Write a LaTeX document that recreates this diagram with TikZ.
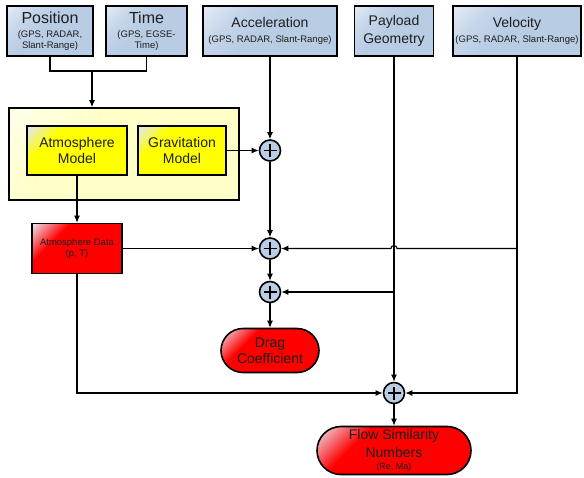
\documentclass[tikz,border=0pt]{standalone}
\usepackage{fontspec}
\setmainfont{Liberation Sans}
\usetikzlibrary{arrows.meta,calc}
\definecolor{bluetop}{HTML}{E2EAF4}
\definecolor{bluemid}{HTML}{C6D6EA}
\definecolor{bluebot}{HTML}{B8CCE4}
\definecolor{envfill}{HTML}{FFFFC8}
\definecolor{envtop}{HTML}{FFFFE6}
\definecolor{yeltop}{HTML}{E4E8EC}
\definecolor{redtop}{HTML}{EAD8E2}
\definecolor{redbot}{HTML}{FF0000}
\definecolor{sumfill}{HTML}{BACDE4}
\definecolor{txt}{HTML}{1E1E1E}
\pgfdeclareverticalshading{bluesh}{100bp}{color(0bp)=(bluebot); color(55bp)=(bluebot); color(70bp)=(bluemid); color(84bp)=(bluetop); color(100bp)=(bluetop)}
\pgfdeclareverticalshading{redsh}{100bp}{color(0bp)=(redbot); color(66bp)=(redbot); color(84bp)=(redtop); color(100bp)=(redtop)}
\pgfdeclareverticalshading{yelsh}{100bp}{color(0bp)=(yellow); color(68bp)=(yellow); color(84bp)=(yeltop); color(100bp)=(yeltop)}
\pgfdeclareverticalshading{envsh}{100bp}{color(0bp)=(envfill); color(62bp)=(envfill); color(82bp)=(envtop); color(100bp)=(envtop)}
\newcommand\fsz[2]{\fontsize{#1}{#2}\selectfont}
\begin{document}
\begin{tikzpicture}[x=1pt,y=-1pt,
  box/.style={draw=black, line width=1.6pt, inner sep=0pt, align=center, text=txt},
  bluebox/.style={box, shade, shading=bluesh, shading angle=45},
  yelbox/.style={box, shade, shading=yelsh, shading angle=45},
  redbox/.style={box, shade, shading=redsh, shading angle=45},
  envbox/.style={draw=black, line width=1.6pt, shade, shading=envsh, shading angle=45},
  sumnode/.style={circle, draw=black, line width=1.6pt, fill=sumfill, minimum size=21pt, inner sep=0pt,
    path picture={\draw[line width=1.6pt] ([xshift=-6.5pt]path picture bounding box.center) -- ([xshift=6.5pt]path picture bounding box.center)
      ([yshift=-6.5pt]path picture bounding box.center) -- ([yshift=6.5pt]path picture bounding box.center);}},
  conn/.style={draw=black, line width=1.1pt},
  arr/.style={conn, -{Latex[length=7pt,width=6pt]}}
  ]
\useasboundingbox (0,0) rectangle (584,477);

% top boxes
\node[bluebox, minimum width=86, minimum height=50, font=\fsz{9.5}{11}] (pos) at (50,31)
  {\fsz{16}{16}Position\\[3pt](GPS, RADAR,\\Slant-Range)};
\node[bluebox, minimum width=81, minimum height=50, font=\fsz{9.5}{11}] (time) at (146.5,31)
  {\fsz{16}{16}Time\\[3pt](GPS, EGSE-\\Time)};
\node[bluebox, minimum width=134, minimum height=50, font=\fsz{9.5}{11}] (acc) at (270,31)
  {\fsz{14}{14}Acceleration\\[4.5pt](GPS, RADAR, Slant-Range)};
\node[bluebox, minimum width=79, minimum height=50, font=\fsz{14}{18}] (pay) at (394,31)
  {Payload\\Geometry};
\node[bluebox, minimum width=128, minimum height=50, font=\fsz{9.5}{11}] (vel) at (517,31)
  {\fsz{14}{14}Velocity\\[4.5pt](GPS, RADAR, Slant-Range)};

% environment models
\node[envbox, minimum width=230, minimum height=92] (env) at (124,154) {};
\node[yelbox, minimum width=100, minimum height=49, font=\fsz{14}{16}] (atmmod) at (77,150.5)
  {Atmosphere\\Model};
\node[yelbox, minimum width=88, minimum height=49, font=\fsz{14}{16}] (grav) at (182,150.5)
  {Gravitation\\Model};

\node[redbox, minimum width=90, minimum height=50, font=\fsz{9.5}{11.3}] (atmdata) at (77,248.5)
  {Atmosphere Data\\(p, T)};

% sums
\node[sumnode] (s1) at (270,150.5) {};
\node[sumnode] (s2) at (270,248.5) {};
\node[sumnode] (s3) at (270,292) {};
\node[sumnode] (s4) at (394,393) {};

% outputs
\node[redbox, rounded corners=22pt, minimum width=98, minimum height=44, font=\fsz{14}{16.5}] (drag) at (270,350.5)
  {Drag\\Coefficient};
\node[redbox, rounded corners=24pt, minimum width=154, minimum height=48, font=\fsz{9}{12}] (flow) at (394,450.5)
  {\fsz{14}{14}Flow Similarity\\[3.5pt]\fsz{14}{14}Numbers\\(Re, Ma)};

% connectors
\coordinate (jn) at (92,71);
\draw[conn] (pos.south) |- (jn) -| (time.south);
\draw[arr] (jn) -- (jn |- env.north);
\draw[arr] (acc.south) -- (s1.north);
\draw[arr] (grav.east) -- (s1.west);
\draw[arr] (s1.south) -- (s2.north);
\draw[arr] (atmmod.south) -- (atmdata.north);
\draw[arr] (atmdata.east) -- (s2.west);
\draw[arr] (s2.south) -- (s3.north);
\draw[arr] (s3.south) -- (drag.north);
\draw[arr] (pay.south) -- (s4.north);
\draw[arr] (pay.south |- s3) -- (s3.east);
\draw[arr] (vel.south) |- (s4.east);
\draw[arr] (vel.south |- s2) -- ($(pay.south |- s2)+(3,0)$) arc[start angle=0, end angle=180, radius=3pt] -- (s2.east);
\draw[arr] (atmdata.south) |- (s4.west);
\draw[arr] (s4.south) -- (flow.north);
\end{tikzpicture}
\end{document}
